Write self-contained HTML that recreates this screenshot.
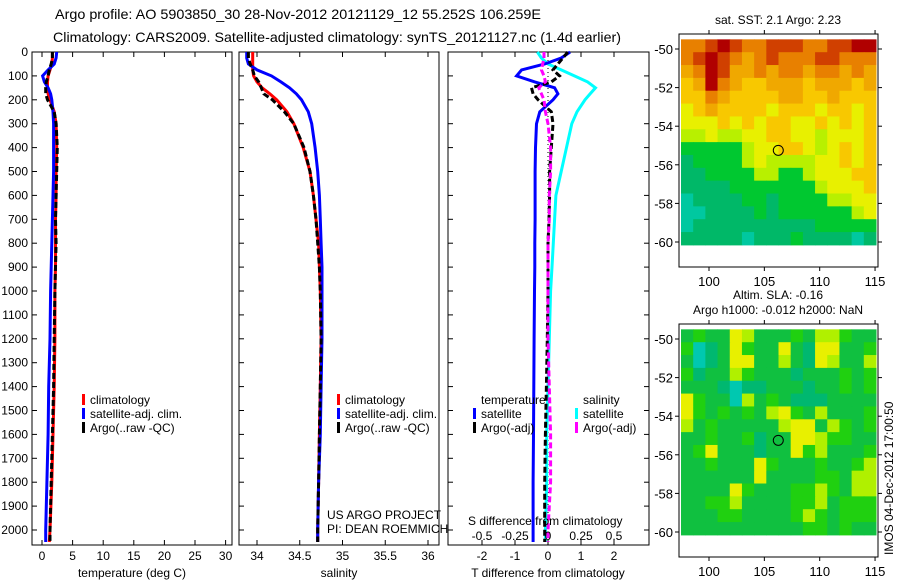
<!DOCTYPE html>
<html><head><meta charset="utf-8"><style>
html,body{margin:0;padding:0;background:#fff;width:900px;height:580px;overflow:hidden}
svg{display:block;font-family:"Liberation Sans",sans-serif}
</style></head><body>
<svg id="fig" width="900" height="580" viewBox="0 0 900 580" xmlns="http://www.w3.org/2000/svg">
<text x="55" y="19" font-size="14" textLength="486" lengthAdjust="spacingAndGlyphs">Argo profile: AO 5903850_30 28-Nov-2012 20121129_12 55.252S 106.259E</text>
<text x="53" y="42" font-size="14" textLength="568" lengthAdjust="spacingAndGlyphs">Climatology: CARS2009. Satellite-adjusted climatology: synTS_20121127.nc (1.4d earlier)</text>
<g id="plots"></g>
</svg>
<script>
// ---- data ----
const depths=[0,25,50,75,100,125,150,175,200,250,300,400,500,600,700,800,900,1000,1200,1400,1600,1800,2000,2050];
const tempClim=[1.7,1.7,1.6,1.3,1.0,0.9,0.9,1.0,1.3,2.0,2.3,2.4,2.3,2.3,2.2,2.2,2.2,2.1,2.1,2.0,1.8,1.6,1.3,1.2];
const tempSat=[2.4,2.3,2.0,1.0,0.1,0.4,1.0,1.4,1.6,1.8,1.9,1.9,1.9,1.8,1.7,1.6,1.5,1.4,1.3,1.1,1.0,0.8,0.6,0.6];
const tempArgo=[1.7,1.7,1.5,1.2,1.0,0.7,0.6,0.6,0.9,2.0,2.3,2.5,2.4,2.3,2.2,2.3,2.2,2.1,2.0,1.9,1.7,1.5,1.3,1.3];
const salClim=[33.95,33.95,33.95,33.95,33.96,34.0,34.06,34.15,34.23,34.35,34.43,34.54,34.62,34.66,34.69,34.72,34.73,34.74,34.75,34.74,34.73,34.72,34.71,34.71];
const salSat=[33.88,33.88,33.9,34.0,34.17,34.28,34.38,34.46,34.52,34.6,34.64,34.68,34.71,34.73,34.74,34.75,34.76,34.76,34.76,34.75,34.74,34.72,34.71,34.71];
const salArgo=[33.9,33.9,33.92,33.95,33.97,34.02,34.05,34.08,34.18,34.32,34.43,34.55,34.62,34.66,34.69,34.71,34.73,34.74,34.75,34.74,34.73,34.72,34.71,34.71];
const dTsat=[0.67,0.4,-0.1,-0.8,-0.95,-0.4,0.2,0.3,0.15,-0.25,-0.35,-0.38,-0.39,-0.39,-0.39,-0.4,-0.4,-0.41,-0.42,-0.43,-0.44,-0.45,-0.45,-0.45];
const dTargo=[0.6,0.45,0.3,0.15,0.35,0.1,-0.5,-0.45,-0.3,0.1,0.15,0.1,0.05,0.05,0.03,0.0,0.0,0.0,-0.02,-0.05,-0.08,-0.1,-0.1,-0.1];
const dSsat=[-0.08,-0.05,0.0,0.1,0.2,0.3,0.36,0.32,0.28,0.22,0.18,0.14,0.1,0.06,0.05,0.04,0.03,0.02,0.01,0.0,-0.01,-0.01,-0.02,-0.02];
const dSargo=[-0.03,-0.03,-0.04,-0.05,-0.03,-0.02,-0.07,-0.05,-0.03,-0.02,0.0,0.02,0.02,0.01,0.01,0.0,0.0,0.0,0.0,0.01,0.02,0.02,0.0,0.0];
const depthTicks=[0,100,200,300,400,500,600,700,800,900,1000,1100,1200,1300,1400,1500,1600,1700,1800,1900,2000];
const tempTicks=[0,5,10,15,20,25,30];
const salTicks=[34,34.5,35,35.5,36];
const salTickLabels=["34","34.5","35","35.5","36"];
const dTTicks=[-2,-1,0,1,2];
const dSTicks=[-0.5,-0.25,0,0.25,0.5];
const dSTickLabels=["-0.5","-0.25","0","0.25","0.5"];
const latTicks=[-50,-52,-54,-56,-58,-60];
const lonTicks=[100,105,110,115];
const sstGrid=["7789877888778899","7898767877788777","6798667677677676","5697655666566656","5576555566556555","4565555455545545","4445454554454545","3343344554434445","2222234455434545","1222234333344545","1122223322344455","1111222222234445","0111122122223344","0011112122222234","0111111111122222","1111101112111101"];
const slaGrid=["2322542223244322","3012532252155223","2012552242154224","3122432221222323","2221011222122323","5322042321112222","5323232453242223","4232222245524323","2232231225543322","2352221225342223","2232225322232234","2222225222233244","2222532223343244","2233422223342333","2223322223432333","2222222222332322"];
const sstColors=["#00c8a0","#00b868","#00c830","#b8f000","#e8f000","#f8c800","#f0a800","#e88000","#d04000","#b00000"];
const slaColors=["#00c8b0","#00b870","#10c040","#20d010","#b0f000","#e8f000"];
const argoLon=106.259, argoLat=-55.252;

// ---- helpers ----
const NS="http://www.w3.org/2000/svg";
const root=document.getElementById('plots');
function mk(tag,attrs,parent,text){const e=document.createElementNS(NS,tag);for(const k in attrs)e.setAttribute(k,attrs[k]);if(text!==undefined)e.textContent=text;(parent||root).appendChild(e);return e;}
const yD=d=>52+d*0.239;
const xT=v=>42+v*6.12;
const xS=v=>257+(v-34)*85.5;
const xdT=v=>548+v*33;
const xdS=v=>548+v*132;
function line(xf,vals,color,w,dash,name){
  const pts=vals.map((v,i)=>xf(v).toFixed(1)+','+yD(depths[i]).toFixed(1)).join(' ');
  const p=mk('polyline',{points:pts,fill:'none',stroke:color,'stroke-width':w});
  if(dash)p.setAttribute('stroke-dasharray',dash);
  
  
}
function frame(x0,x1,name){
  const r=mk('rect',{x:x0,y:52,width:x1-x0,height:493,fill:'none',stroke:'#000','stroke-width':1});
  
  
  depthTicks.forEach(d=>{mk('line',{x1:x0,x2:x0+5,y1:yD(d),y2:yD(d),stroke:'#000'});});
}
function xTicks(xf,ticks,labels,x0,name,top){
  ticks.forEach((t,i)=>{
    const x=xf(t);
    mk('line',{x1:x,x2:x,y1:545,y2:540,stroke:'#000'});
    if(top!==false)mk('line',{x1:x,x2:x,y1:52,y2:57,stroke:'#000'});
    const tx=mk('text',{x:x,y:560,'font-size':12,'text-anchor':'middle'},root,labels?labels[i]:String(t));
    
    
  });
}
function label(x,y,txt,name,size,anchor){
  const t=mk('text',{x:x,y:y,'font-size':size||12,'text-anchor':anchor||'start'},root,txt);
  
  
  return t;
}
function legend(x,y,color,txt,name){
  const b=mk('rect',{x:x,y:y-10,width:3,height:11,fill:color});
  
  
  label(x+8,y,txt,name);
}

// depth labels
depthTicks.forEach(d=>{
  const t=label(28,yD(d)+4,String(d),'depth-tick-label',12,'end');
});

// panel 1 temperature
frame(32,232,'temperature-panel');
xTicks(xT,tempTicks,null,32,'temperature');
line(xT,tempClim,'#ff0000',3,null,'temperature-climatology-line');
line(xT,tempSat,'#0000ff',3,null,'temperature-satellite-line');
line(xT,tempArgo,'#000000',3,'6,3','temperature-argo-line');
label(132,577,'temperature (deg C)','temperature-axis-title',12,'middle');
legend(82,404,'#ff0000','climatology','legend-climatology');
legend(82,418,'#0000ff','satellite-adj. clim.','legend-satellite');
legend(82,432,'#000000','Argo(..raw -QC)','legend-argo');

// panel 2 salinity
frame(239,439,'salinity-panel');
xTicks(xS,salTicks,salTickLabels,239,'salinity');
line(xS,salClim,'#ff0000',3,null,'salinity-climatology-line');
line(xS,salSat,'#0000ff',3,null,'salinity-satellite-line');
line(xS,salArgo,'#000000',3,'6,3','salinity-argo-line');
label(339,577,'salinity','salinity-axis-title',12,'middle');
legend(337,404,'#ff0000','climatology','legend-sal-climatology');
legend(337,418,'#0000ff','satellite-adj. clim.','legend-sal-satellite');
legend(337,432,'#000000','Argo(..raw -QC)','legend-sal-argo');
label(327,519,'US ARGO PROJECT','project-label');
label(327,533,'PI: DEAN ROEMMICH','pi-label');

// panel 3 differences
frame(448,649,'difference-panel');
depthTicks.forEach(d=>{mk('line',{x1:649,x2:644,y1:yD(d),y2:yD(d),stroke:'#000'});});
xTicks(xdT,dTTicks,null,448,'t-difference');
mk('line',{x1:548,x2:548,y1:52,y2:545,stroke:'#000','stroke-width':1,'stroke-dasharray':'1,3'});
line(xdS,dSsat,'#00ffff',3,null,'salinity-satellite-diff-line');
line(xdT,dTsat,'#0000ff',3,null,'temperature-satellite-diff-line');
line(xdT,dTargo,'#000000',3,'6,3','temperature-argo-diff-line');
line(xdS,dSargo,'#ff00ff',3,'6,3','salinity-argo-diff-line');
label(548,577,'T difference from climatology','t-difference-axis-title',12,'middle');
label(468,525,'S difference from climatology','s-difference-axis-title');
dSTicks.forEach((t,i)=>{label(xdS(t),540,dSTickLabels[i],'s-difference-tick-label',12,'middle');});
label(481,404,'temperature','legend-temperature-header');
label(583,404,'salinity','legend-salinity-header');
legend(473,418,'#0000ff','satellite','legend-diff-t-satellite');
legend(473,432,'#000000','Argo(-adj)','legend-diff-t-argo');
legend(575,418,'#00ffff','satellite','legend-diff-s-satellite');
legend(575,432,'#ff00ff','Argo(-adj)','legend-diff-s-argo');

// maps
function map(y0,grid,colors,title,name,yLat50){
  const X0=679,X1=878,Y1=y0+233;
  const lonX=l=>709+(l-100)*11.07;
  const latY=l=>yLat50+(-50-l)*19.3;
  const g=mk('g',{});
  
  
  const rows=grid.length, cols=grid[0].length;
  const top=latY(-49.5), bot=latY(-60.15), left=X0+2, right=X1-2;
  const cw=(right-left)/cols, ch=(bot-top)/rows;
  grid.forEach((row,r)=>{[...row].forEach((c,k)=>{
    const cell=mk('rect',{x:(left+k*cw).toFixed(2),y:(top+r*ch).toFixed(2),width:(cw+0.5).toFixed(2),height:(ch+0.5).toFixed(2),fill:colors[+c]},g);
    
    
  });});
  const f=mk('rect',{x:X0,y:y0,width:X1-X0,height:Y1-y0,fill:'none',stroke:'#000'},g);
  latTicks.forEach(l=>{const y=latY(l);
    mk('line',{x1:X0,x2:X0-4,y1:y,y2:y,stroke:'#000'},g);
    mk('line',{x1:X1,x2:X1+4,y1:y,y2:y,stroke:'#000'},g);
    label(X0-6,y+5,String(l),'latitude-tick-label',13,'end');});
  lonTicks.forEach(l=>{const x=lonX(l);
    mk('line',{x1:x,x2:x,y1:Y1,y2:Y1+4,stroke:'#000'},g);
    mk('line',{x1:x,x2:x,y1:y0,y2:y0-4,stroke:'#000'},g);
    label(x,Y1+19,String(l),'longitude-tick-label',13,'middle');});
  const c=mk('circle',{cx:lonX(argoLon),cy:latY(argoLat),r:5,fill:'none',stroke:'#000','stroke-width':1},g);
  
  
  title.forEach((t,i)=>label(778,y0-24+title.length*0+i*15-(title.length-1)*15+14,t,name+'-title',12,'middle'));
}
map(34,sstGrid,sstColors,['sat. SST: 2.1 Argo: 2.23'],'sst-map',49);
map(324,slaGrid,slaColors,['Altim. SLA: -0.16','Argo h1000: -0.012  h2000: NaN'],'sla-map',339);
const st=label(0,0,'IMOS 04-Dec-2012 17:00:50','timestamp-label',12,'start');
st.setAttribute('transform','translate(893,555) rotate(-90)');
</script>
</body></html>
